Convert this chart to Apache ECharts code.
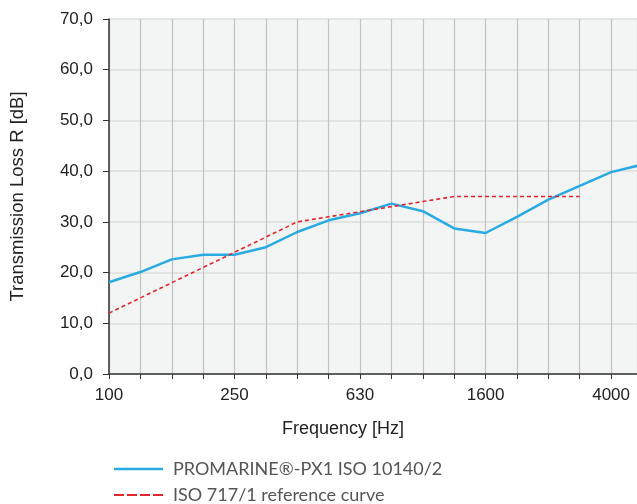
<!DOCTYPE html>
<html>
<head>
<meta charset="utf-8">
<script src="https://cdn.jsdelivr.net/npm/echarts@6/dist/echarts.min.js"></script>
<style>
html,body{margin:0;padding:0;background:#fff;}
#chart{width:637px;height:504px;}
</style>
</head>
<body>
<div id="chart"></div>
<script>
const frequencies = ['100','125','160','200','250','315','400','500','630','800','1000','1250','1600','2000','2500','3150','4000','5000'];
const promarine = [18.1,20.1,22.6,23.5,23.5,25.0,28.0,30.3,31.7,33.6,32.1,28.7,27.8,31.0,34.4,37.1,39.8,41.3];
const reference = [12,15,18,21,24,27,30,31,32,33,34,35,35,35,35,35,null,null];
const labelledFrequencies = ['100','250','630','1600','4000'];
const seriesNames = ['PROMARINE®-PX1 ISO 10140/2','ISO 717/1 reference curve'];

// the reference picture is cut just past the 4000 Hz band (5000 Hz lies off-canvas)
const visibleBands = 16.825;

const toPoints = arr => arr.map((v,i)=> v===null ? [i,null] : [i,v]);

const chart = echarts.init(document.getElementById('chart'), null, {renderer:'canvas'});
const axisFont = '"Liberation Sans", Arial, sans-serif';
const legendText = {color:'#555', fontSize:18, fontFamily:'Lato, "Open Sans", sans-serif', padding:[0,0,0,5]};
chart.setOption({
  animation:false,
  backgroundColor:'#ffffff',
  grid:{left:107, top:19, right:0, bottom:130, show:true, backgroundColor:'#f3f5f4', borderWidth:0},
  legend:[
    {orient:'horizontal', left:109, top:455, height:30, itemWidth:49, itemHeight:2.5,
     textStyle:legendText, selectedMode:false,
     data:[{name:seriesNames[0], icon:'path://M0,0h49v2.5h-49z'}]},
    {orient:'horizontal', left:109, top:481, height:30, itemWidth:49, itemHeight:2,
     textStyle:legendText, selectedMode:false,
     data:[{name:seriesNames[1], icon:'path://M0,0h10v2h-10z M13,0h10v2h-10z M26,0h10v2h-10z M39,0h10v2h-10z'}]}
  ],
  xAxis:{
    type:'value', min:0, max:visibleBands, interval:1,
    name:'Frequency [Hz]', nameLocation:'middle', nameGap:46,
    nameTextStyle:{color:'#222', fontSize:18, fontFamily:axisFont, padding:[0,60,0,0]},
    axisLine:{show:true, lineStyle:{color:'#333', width:1.5}},
    axisTick:{show:true, length:5, lineStyle:{color:'#333'}},
    axisLabel:{color:'#222', fontSize:17, fontFamily:axisFont, margin:13, showMaxLabel:false,
      formatter:v=>{
        if (!Number.isInteger(v)) return '';
        const f = frequencies[v];
        return labelledFrequencies.indexOf(f) >= 0 ? f : '';
      }},
    splitLine:{show:true, lineStyle:{color:'#c2c2c2', width:1.2}}
  },
  yAxis:{
    type:'value', min:0, max:70, interval:10,
    name:'Transmission Loss R [dB]', nameLocation:'middle', nameGap:82, nameRotate:90,
    nameTextStyle:{color:'#222', fontSize:18.5, fontFamily:axisFont},
    axisLine:{show:true, lineStyle:{color:'#333', width:1.5}},
    axisTick:{show:true, length:6, lineStyle:{color:'#333'}},
    axisLabel:{color:'#222', fontSize:17, fontFamily:axisFont, margin:16,
      formatter:v=>v.toFixed(1).replace('.',',')},
    splitLine:{show:true, lineStyle:{color:'#dcdede', width:1.5}}
  },
  series:[
    {name:seriesNames[0], type:'line', data:toPoints(promarine), symbol:'none', z:3, clip:true,
     lineStyle:{color:'#29abe2', width:2.5}, itemStyle:{color:'#29abe2'}},
    {name:seriesNames[1], type:'line', data:toPoints(reference), symbol:'none', z:4, clip:true,
     lineStyle:{color:'#e3262b', width:1.6, type:[4,3]}, itemStyle:{color:'#e3262b'}}
  ]
});
</script>
</body>
</html>
